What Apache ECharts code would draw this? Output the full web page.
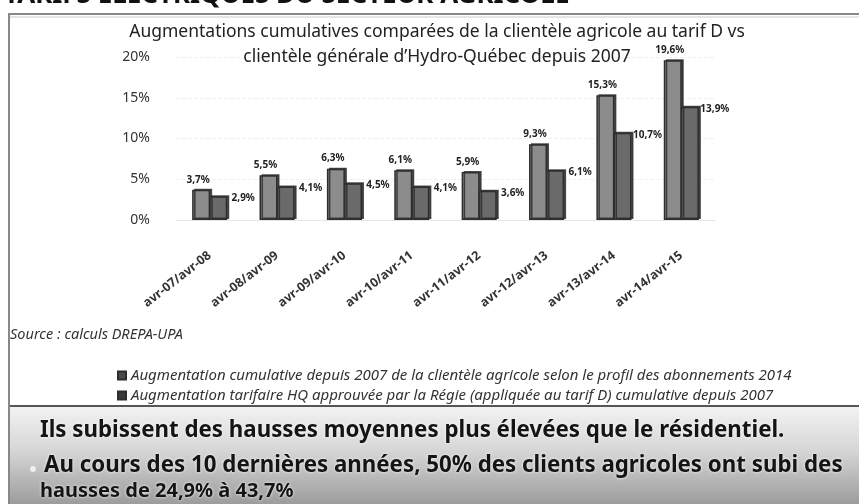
<!DOCTYPE html>
<html>
<head>
<meta charset="utf-8">
<script src="https://cdn.jsdelivr.net/npm/echarts@6/dist/echarts.min.js"></script>
<style>
html,body{margin:0;padding:0;background:#fff;}
#chart{width:859px;height:504px;}
</style>
</head>
<body>
<div id="chart"></div>
<script>
// ---- data ----
var categories = ['avr-07/avr-08','avr-08/avr-09','avr-09/avr-10','avr-10/avr-11','avr-11/avr-12','avr-12/avr-13','avr-13/avr-14','avr-14/avr-15'];
var agricole = [3.7, 5.5, 6.3, 6.1, 5.9, 9.3, 15.3, 19.6];
var tarifHQ = [2.9, 4.1, 4.5, 4.1, 3.6, 6.1, 10.7, 13.9];
var seriesNames = [
  'Augmentation cumulative depuis 2007 de la clientèle agricole selon le profil des abonnements 2014',
  'Augmentation tarifaire HQ approuvée par la Régie (appliquée au tarif D) cumulative depuis 2007'
];
var yTicks = {min: 0, max: 20, interval: 5};

var pct = function (v) { return String(v).replace('.', ',') + '%'; };
var chart = echarts.init(document.getElementById('chart'), null, {renderer: 'canvas'});
var font = '"Noto Sans", "DejaVu Sans", sans-serif';
var shadowText = {textShadowColor: '#fff', textShadowBlur: 3};

chart.setOption({
  backgroundColor: '#ffffff',
  animation: false,
  title: {
    text: 'Augmentations cumulatives comparées de la clientèle agricole au tarif D vs\nclientèle générale d\u2019Hydro-Québec depuis 2007',
    left: 432, top: 15, textAlign: 'center',
    textStyle: {fontFamily: font, fontSize: 17.5, fontWeight: 'normal', color: '#222', lineHeight: 25}
  },
  grid: {left: 176, width: 539, top: 57, height: 163},
  legend: {
    orient: 'vertical', left: 112, top: 363, itemGap: 5, itemWidth: 8, itemHeight: 8,
    icon: 'rect',
    textStyle: {fontFamily: font, fontSize: 15, fontStyle: 'italic', color: '#333'},
    data: [
      {name: seriesNames[0], itemStyle: {color: '#4a4a4a'}},
      {name: seriesNames[1], itemStyle: {color: '#3a3a3a'}}
    ]
  },
  xAxis: {
    type: 'category', data: categories,
    axisLine: {show: true, lineStyle: {color: '#e6e6e6'}},
    axisTick: {show: false},
    axisLabel: {rotate: 38, margin: 34, fontFamily: font, fontSize: 12.5, color: '#333', fontWeight: 'bold'}
  },
  yAxis: {
    type: 'value', min: yTicks.min, max: yTicks.max, interval: yTicks.interval,
    axisLine: {show: false}, axisTick: {show: false},
    splitLine: {show: true, lineStyle: {color: '#f0f0f0', type: 'dashed'}},
    axisLabel: {formatter: '{value}%', margin: 26, fontFamily: font, fontSize: 14, color: '#333'}
  },
  series: [
    {
      name: seriesNames[0], type: 'bar', data: agricole, barWidth: 18, barGap: '-5%',
      itemStyle: {color: '#8c8c8c', borderColor: '#2e2e2e', borderWidth: 1.5,
        shadowColor: 'rgba(40,40,40,0.8)', shadowOffsetX: 2, shadowOffsetY: -1, shadowBlur: 0},
      label: {show: true, position: 'top', offset: [-3, 0], formatter: function (p) { return pct(p.value); },
        fontFamily: font, fontSize: 10, fontWeight: 'bold', color: '#222'}
    },
    {
      name: seriesNames[1], type: 'bar', data: tarifHQ, barWidth: 18,
      itemStyle: {color: '#6a6a6a', borderColor: '#2e2e2e', borderWidth: 1.5,
        shadowColor: 'rgba(40,40,40,0.8)', shadowOffsetX: 2, shadowOffsetY: -1, shadowBlur: 0},
      label: {show: true, position: 'top', offset: [25, 12], formatter: function (p) { return pct(p.value); },
        fontFamily: font, fontSize: 10, fontWeight: 'bold', color: '#222'}
    }
  ],
  graphic: [
    // clipped slide heading
    {type: 'text', left: 4, top: -17, z: 10,
      style: {text: 'TARIFS ÉLECTRIQUES DU SECTEUR AGRICOLE', fontFamily: font, fontSize: 26, fontWeight: 'bold', fill: '#111'}},
    // frame
    {type: 'line', shape: {x1: 8, y1: 14, x2: 859, y2: 14}, style: {stroke: '#888', lineWidth: 2}, z: 11},
    {type: 'rect', shape: {x: 8, y: 15, width: 851, height: 3}, style: {fill: '#fff'}, z: 11},
    {type: 'line', shape: {x1: 8, y1: 17, x2: 859, y2: 17}, style: {stroke: '#ccc', lineWidth: 1}, z: 11},
    {type: 'line', shape: {x1: 9, y1: 14, x2: 9, y2: 504}, style: {stroke: '#888', lineWidth: 2}, z: 11},
    // bottom panel
    {type: 'rect', shape: {x: 10, y: 407, width: 849, height: 97}, z: 0,
      style: {fill: new echarts.graphic.LinearGradient(0, 0, 0, 1, [
        {offset: 0, color: '#f2f2f2'}, {offset: 0.45, color: '#d6d6d6'}, {offset: 1, color: '#9c9c9c'}])}},
    {type: 'line', shape: {x1: 8, y1: 406, x2: 859, y2: 406}, style: {stroke: '#555', lineWidth: 2}},
    {type: 'text', left: 10, top: 327,
      style: {text: 'Source : calculs DREPA-UPA', fontFamily: font, fontSize: 14.5, fontStyle: 'italic', fill: '#333'}},
    {type: 'text', left: 40, top: 420, z: 5,
      style: Object.assign({text: 'Ils subissent des hausses moyennes plus élevées que le résidentiel.', fontFamily: font, fontSize: 22.3, fontWeight: 'bold', fill: '#141414'}, shadowText)},
    {type: 'circle', shape: {cx: 33, cy: 469, r: 3}, style: {fill: '#eee'}, z: 5},
    {type: 'text', left: 44, top: 455, z: 5,
      style: Object.assign({text: 'Au cours des 10 dernières années, 50% des clients agricoles ont subi des', fontFamily: font, fontSize: 22.3, fontWeight: 'bold', fill: '#141414'}, shadowText)},
    {type: 'text', left: 40, top: 481, z: 5,
      style: Object.assign({text: 'hausses de 24,9% à 43,7%', fontFamily: font, fontSize: 20, fontWeight: 'bold', fill: '#141414'}, shadowText)}
  ]
});
</script>
</body>
</html>
